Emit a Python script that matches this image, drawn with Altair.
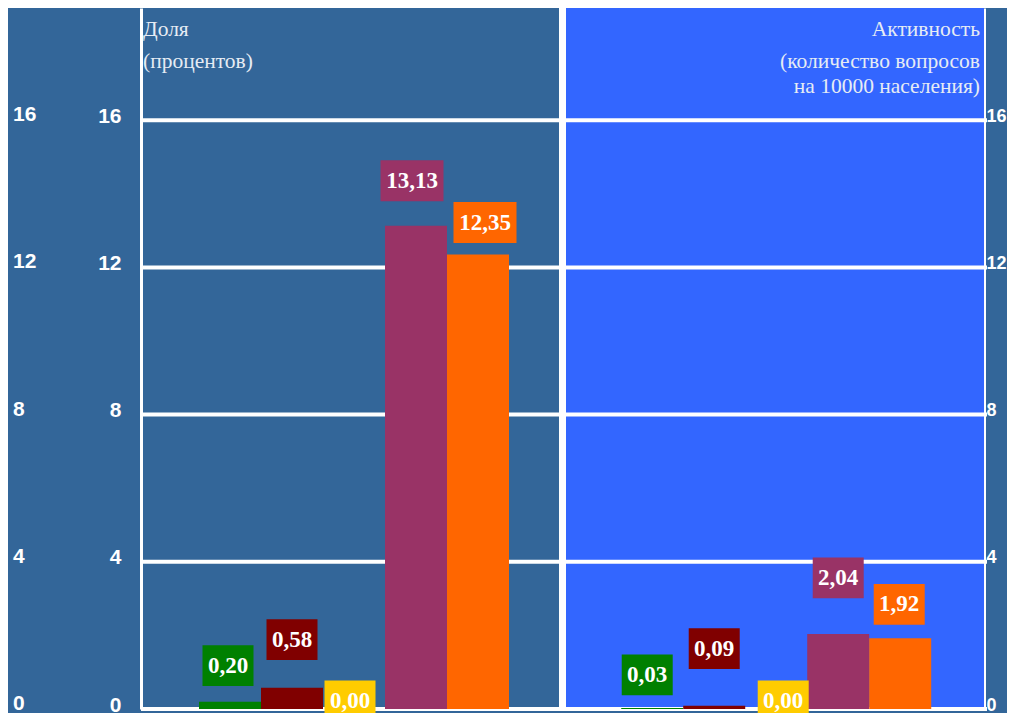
import altair as alt
import pandas as pd

# ---- data ----
series = ["s1", "s2", "s3", "s4", "s5"]
series_colors = ["#008000", "#800000", "#FFCC00", "#993366", "#FF6600"]
share_values = [0.20, 0.58, 0.00, 13.13, 12.35]       # Доля (процентов)
activity_values = [0.03, 0.09, 0.00, 2.04, 1.92]      # Активность
tick_values = [0, 4, 8, 12, 16]

# label box placement (pixel offsets from bar top / bar centre)
share_lift = [36, 48, 8, 45, 32]
share_dx = [-2, 0, -4, -4, 7]
activity_lift = [33, 57, 8, 56, 34]
activity_dx = [-5, 0, 7, 0, -1]

# ---- layout ----
W, H = 843, 701           # plot area (both panels)
YMAX = 19.05
PXU = H / YMAX            # pixels per value unit
STEP = 62.0               # bar width in px
LEFT_START = 58           # px from plot left to first bar
GROUP_GAP = 6.81          # bar-steps between the two groups
X0 = -LEFT_START / STEP
X1 = X0 + W / STEP
PANEL_SPLIT = 418         # px: end of left panel
PANEL2 = 425              # px: start of right panel
BG = "#336699"


def fmt(v):
    return f"{v:.2f}".replace(".", ",")


rows = []
for g, (vals, lifts, dxs) in enumerate([(share_values, share_lift, share_dx),
                                        (activity_values, activity_lift, activity_dx)]):
    for i, s in enumerate(series):
        rows.append({"series": s, "slot": g * GROUP_GAP + i, "value": vals[i],
                     "label": fmt(vals[i]), "lift": lifts[i], "dx": dxs[i]})
df = pd.DataFrame(rows)

xs = alt.Scale(domain=[X0, X1], nice=False, zero=False)
ys = alt.Scale(domain=[0, YMAX], nice=False)
color = alt.Color("series:N", scale=alt.Scale(domain=series, range=series_colors), legend=None)

left_axis = alt.Axis(orient="left", values=tick_values, title=None, grid=False,
                     domain=True, domainColor="white", domainWidth=3,
                     ticks=False, tickSize=0, labelPadding=20, labelFont="Liberation Sans",
                     labelFontWeight="bold", labelFontSize=21, labelColor="white", labelOffset=-4)
right_axis = alt.Axis(orient="right", values=tick_values, title=None, grid=False,
                      domain=True, domainColor="white", domainWidth=3,
                      ticks=False, tickSize=0, labelPadding=2,
                      labelFont="Liberation Sans", labelFontWeight="bold", labelFontSize=18,
                      labelColor="white", labelOffset=-4)

one = pd.DataFrame({"k": [0]})
ticks_df = pd.DataFrame({"tick": tick_values, "txt": [str(t) for t in tick_values]})

# right panel background
right_bg = alt.Chart(one).mark_rect(color="#3366FF").encode(
    x=alt.value(PANEL2), x2=alt.value(W), y=alt.value(0), y2=alt.value(H))

# grid lines
grid = alt.Chart(ticks_df).mark_rule(color="white", strokeWidth=4).encode(
    y=alt.Y("tick:Q", scale=ys, axis=None), x=alt.value(0), x2=alt.value(W + 3))

# white separator between panels
sep = alt.Chart(one).mark_rule(color="white", strokeWidth=7).encode(
    x=alt.value((PANEL_SPLIT + PANEL2) / 2), y=alt.value(0), y2=alt.value(H + 2))

base = alt.Chart(df).transform_calculate(
    slot2="datum.slot + 1",
    xl=f"datum.slot + 0.5 + datum.dx / {STEP}",
    yl=f"datum.value + datum.lift / {PXU}",
    shp="length(datum.label) > 4 ? 'M-1,-0.65H1V0.65H-1Z' : 'M-1,-0.8H1V0.8H-1Z'",
    sz="length(datum.label) > 4 ? 3969 : 2601",
)

bars = base.mark_bar().encode(
    x=alt.X("slot:Q", scale=xs, axis=None), x2="slot2:Q",
    y=alt.Y("value:Q", scale=ys, axis=left_axis), y2=alt.datum(0),
    color=color)

boxes = base.mark_point(filled=True, opacity=1, strokeWidth=0).encode(
    x=alt.X("xl:Q", scale=xs, axis=None),
    y=alt.Y("yl:Q", scale=ys, axis=None),
    shape=alt.Shape("shp:N", scale=None),
    size=alt.Size("sz:Q", scale=None),
    color=color)

texts = base.mark_text(font="Liberation Serif", fontWeight="bold", fontSize=23,
                       color="white", baseline="middle", align="center").encode(
    x=alt.X("xl:Q", scale=xs, axis=None),
    y=alt.Y("yl:Q", scale=ys, axis=None),
    text="label:N")

# ghost axis labels at the far left (from the neighbouring chart)
outer_labels = alt.Chart(ticks_df).mark_text(
    align="left", baseline="middle", dy=-5, font="Liberation Sans", fontWeight="bold",
    fontSize=21, color="white").encode(
    x=alt.value(-128), y=alt.Y("tick:Q", scale=ys, axis=None), text="txt:N")

# right axis carrier
right_carrier = alt.Chart(ticks_df).mark_point(opacity=0).encode(
    y=alt.Y("tick:Q", scale=ys, axis=right_axis), x=alt.value(W))

title_font = dict(font="Liberation Serif", fontSize=21.5, color="#E6ECF4")
left_t1 = alt.Chart(pd.DataFrame({"t": ["Доля"]})).mark_text(
    align="left", baseline="alphabetic", **title_font).encode(
    x=alt.value(2), y=alt.value(28), text="t:N")
left_t2 = alt.Chart(pd.DataFrame({"t": ["(процентов)"]})).mark_text(
    align="left", baseline="alphabetic", **title_font).encode(
    x=alt.value(2), y=alt.value(60), text="t:N")
right_t1 = alt.Chart(pd.DataFrame({"t": ["Активность"]})).mark_text(
    align="right", baseline="alphabetic", **title_font).encode(
    x=alt.value(W - 4), y=alt.value(28), text="t:N")
right_t2 = alt.Chart(pd.DataFrame({"t": ["(количество вопросов\nна 10000 населения)"]})).mark_text(
    align="right", baseline="alphabetic", lineBreak="\n", lineHeight=25, **title_font).encode(
    x=alt.value(W - 4), y=alt.value(60), text="t:N")

chart = alt.layer(
    right_bg, grid, sep, bars, boxes, texts, outer_labels, right_carrier,
    left_t1, left_t2, right_t1, right_t2,
).resolve_axis(y="independent").properties(
    width=W, height=H,
    background=BG,
    autosize=alt.AutoSizeParams(type="none"),
    padding={"left": 133, "top": 0, "right": 23, "bottom": 4},
).configure_view(strokeWidth=0)

chart.save("out.html", embed_options={"renderer": "svg", "actions": False})
